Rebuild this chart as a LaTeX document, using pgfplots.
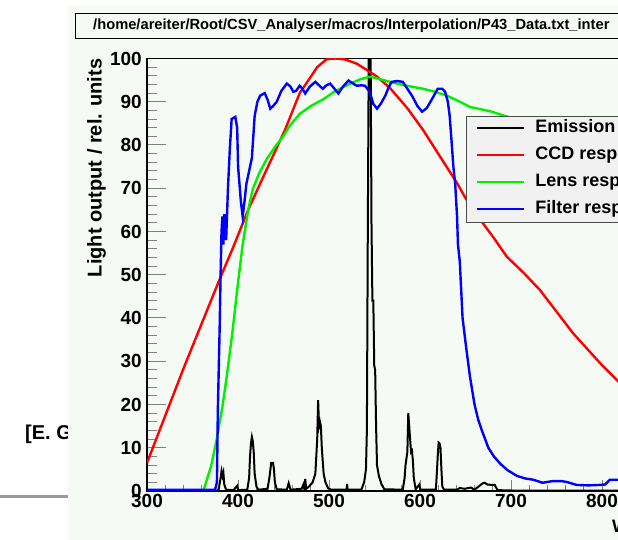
\documentclass[border=0pt]{standalone}
\usepackage{fontspec}
\setmainfont{Liberation Sans}
\usepackage{pgfplots}
\pgfplotsset{compat=1.18}
\definecolor{canvasbg}{RGB}{245,250,245}
\definecolor{legendbg}{RGB}{240,241,240}
\definecolor{rootred}{RGB}{255,0,0}
\definecolor{rootgreen}{RGB}{0,240,0}
\definecolor{rootblue}{RGB}{0,0,255}

\begin{document}
\begin{tikzpicture}[x=1pt,y=1pt]
\fill[white] (0,0) rectangle (618,540);
% slide text behind the canvas
\node[anchor=base west, inner sep=0pt, font=\bfseries\fontsize{20}{20}\selectfont] at (25,100) {[E. G};
\draw[black!40, line width=3pt] (0,43) -- (70,43);
\fill[canvasbg] (68,0) rectangle (700,535);
% title box
\draw[fill=canvasbg, line width=0.8pt] (75,502) rectangle (700,527);
\node[anchor=west, inner sep=0pt, font=\bfseries\fontsize{14.7}{14.7}\selectfont] at (93,514.5)
  {/home/areiter/Root/CSV\_Analyser/macros/Interpolation/P43\_Data.txt\_inter};

\begin{axis}[
  at={(147pt,49pt)}, anchor=south west,
  scale only axis, width=637pt, height=432.5pt,
  xmin=300, xmax=1000, ymin=0, ymax=100,
  x filter/.expression={300+(x-300)*1.011},
  axis line style={line width=1.2pt},
  tick align=inside, tick pos=left,
  xtick={300,400,...,1000}, ytick={0,10,...,100},
  minor x tick num=4, minor y tick num=4,
  xtick style={line width=1pt, /pgfplots/major tick length=11pt, /pgfplots/minor tick length=5.5pt},
  ytick style={line width=1pt, /pgfplots/major tick length=19pt, /pgfplots/minor tick length=9.5pt},
  /pgf/number format/assume math mode=true,
  tick label style={font=\bfseries\fontsize{19}{19}\selectfont, inner sep=0pt},
  xticklabel style={anchor=north, yshift=-3pt},
  yticklabel style={anchor=east, xshift=-5pt},
  ylabel={Light output / rel. units},
  ylabel style={at={(axis description cs:0,1)}, anchor=south east, yshift=41pt,
    font=\bfseries\fontsize{20}{20}\selectfont, inner sep=0pt},
  xlabel={Wavelength / nm},
  xlabel style={at={(axis cs:811,0)}, anchor=north west, yshift=-28pt,
    font=\bfseries\fontsize{18}{18}\selectfont, inner sep=0pt},
  legend cell align=left,
  legend image code/.code={\draw[#1, line width=2pt] (0pt,0pt) -- (47pt,0pt);},
  legend style={at={(axis cs:650.5,86.8)}, anchor=north west,
    fill=legendbg, draw=black!70, line width=0.8pt,
    inner xsep=10pt, inner ysep=4pt, row sep=10pt,
    nodes={inner sep=0pt, text height=13pt, text depth=4pt},
    font=\bfseries\fontsize{18}{18}\selectfont,
    /tikz/every odd column/.style={column sep=10pt}},
]
\addplot[draw=black, line width=2pt] coordinates {
(300,0)(376,0)(378,0.5)(380,3)(381,4.6)(382,3.5)(383,4.3)(384,1.5)(386,0.3)(394,0.2)(398,1.2)(399,0.2)
(409,0.3)(411,3)(412,8)(413,11)(414,12.5)(415,11.5)(416,9)(417,4)(419,1)(421,0.3)(431,0.5)(433,3)
(435,6.5)(437,6.5)(438,5)(439,2)(441,0.4)(452,0.3)(454,1.8)(456,0.3)(468,0.5)(470,1.5)(471,0.5)
(472,2.8)(473,0.5)(476,1)(480,2)(483,4)(485,12)(486,21)(487,15)(488,16)(489,15)(490,10)(491,7)
(492,4)(494,2)(497,0.6)(500,0.3)(517,0.3)(517.5,1.6)(518,0.3)(533,0.3)(536,2)(538,5)(539,14)
(540,60)(541,100)(542,105)(543,104)(544,62)(545,44)(546,44)(547,29)(548,28)(549,15)(550,6)
(552,3.5)(555,1.5)(558,0.4)(578,0.3)(580,3)(581,6)(583,9)(584,18)(585,15)(586,12)(587,9)(588,9.3)
(589,7)(590,3)(592,0.4)(596,1.5)(597,0.3)(614,0.3)(615,4)(616,8)(617,11.2)(618,11)(619,10)(620,5)
(621,1)(623,0.3)(637,0.3)(640,0.7)(645,0.5)(652,0.8)(656,0.3)(665,1.8)(667,1.9)(670,1.5)(675,1.4)
(678,1.4)(681,0.2)(700,0.1)(1000,0)};
\addlegendentry{Emission spectrum}
\addplot[draw=rootred, line width=2.4pt] coordinates {
(300,6.5)(320,17.5)(340,28.5)(360,39)(380,49.5)(393,56)(410,65)(425,72)(437,77.5)(450,83.5)
(466,92)(474,94.5)(485,98)(495,99.8)(505,100)(515,99.8)(528,98.8)(540,97.2)(550,95.8)(564,93.2)
(583,88.5)(600,83.5)(618,77.5)(637,71.2)(646,67.8)(662,62.8)(677,58.5)(691,54.2)(710,50.3)
(727,46.5)(745,41.5)(763,36.5)(780,32.5)(795,29)(811,25.6)(830,21.5)(850,18)(900,11)(1000,4)};
\addlegendentry{CCD response}
\addplot[draw=rootgreen, line width=2.4pt] coordinates {
(300,0)(360,0)(362,0.5)(370,6)(376,12.3)(382,19.5)(387,27)(393,37)(398,46.5)(404,57)(410,65)
(415,69.8)(422,73.5)(430,76.7)(440,79.8)(448,82)(455,84.4)(466,87.2)(478,89)(491,90.5)(505,92.5)
(521,94.2)(532,95.2)(542,95.8)(552,95.3)(564,94.6)(580,93.8)(600,93)(613,92.3)(626,91.4)(640,90)
(651,88.8)(673,87.8)(700,86)(750,82)(800,78)(850,74)(900,70)(1000,62)};
\addlegendentry{Lens response}
\addplot[draw=rootblue, line width=2.4pt] coordinates {
(300,0.3)(374,0.3)(376,2)(377,18.6)(379,38)(380,50)(381,60)(382,63.5)(383,57)(384,64)(386,58)
(388,70)(390,79)(392,86)(396,86.5)(398,84)(399,75)(402,67)(404,63.5)(406,67)(408,71)(411,74)
(414,77)(417,86.7)(420,90)(423,91.4)(428,92)(431,90.5)(434,88.4)(437,89)(441,90)(446,92.5)
(452,94.2)(456,93.5)(459,92.3)(462,92.5)(466,93.7)(469,93)(472,91.9)(477,93.5)(483,94.6)
(487,93.8)(491,93)(495,93.8)(499,94.2)(503,93.2)(508,91.9)(513,93.5)(519,94.9)(524,94.2)
(528,93.7)(533,93.8)(537,93.7)(542,92.3)(546,89.5)(550,88.4)(554,89.5)(559,91.4)(563,93.5)
(566,94.6)(572,94.8)(578,94.6)(583,93)(588,91.4)(594,89)(599,87.7)(604,88.5)(610,90.7)(616,93)
(621,93)(624,92.3)(627,90)(629,86.7)(631,81)(633,75)(635,71)(637,63.5)(638,57)(640,53)(643,40)
(647,33)(651,26.5)(656,20)(660,16.5)(664,14)(671,10)(677,8)(684,6.3)(692,4.8)(702,3.5)(711,2.9)
(720,2.6)(730,1.9)(741,2.3)(750,2.3)(756,2.1)(767,1.4)(780,1.3)(792,1.4)(798,1.5)(803,2.6)
(812,2.6)(830,2.5)(860,2.3)(900,2)(1000,1.5)};
\addlegendentry{Filter response}
\end{axis}
\pgfresetboundingbox
\useasboundingbox (0,0) rectangle (618,540);
\end{tikzpicture}
\end{document}
